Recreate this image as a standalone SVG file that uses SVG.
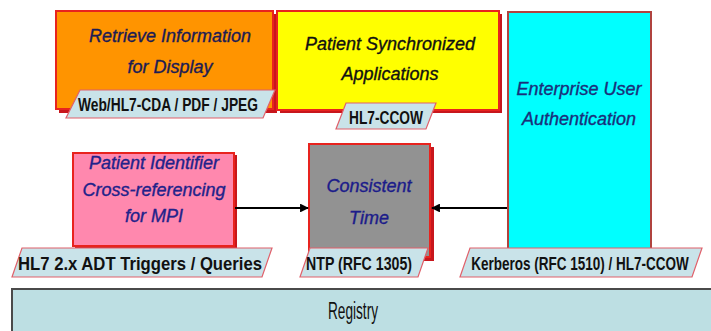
<svg xmlns="http://www.w3.org/2000/svg" width="711" height="331" viewBox="0 0 711 331">
  <style>
    .title { font-family: "Liberation Sans", Arial, sans-serif; font-size: 18px; font-style: italic; text-anchor: middle; stroke-width: 0.35; }
    .tag { fill: #c9e3e9; stroke: #e0606a; stroke-width: 1.2; }
    .tagtext { font-family: "Liberation Sans Narrow", "Liberation Sans", Arial, sans-serif; font-size: 19px; font-weight: bold; fill: #111; text-anchor: middle; }
    .shadow { fill: #c8161c; }
    .box { stroke: #e8231e; stroke-width: 2; }
    .link { stroke: #000; stroke-width: 2.2; fill: none; }
  </style>
  <defs>
    <marker id="arrow" viewBox="0 0 10 10" refX="9" refY="5" markerWidth="4" markerHeight="4" orient="auto">
      <path d="M0,0 L10,5 L0,10 z" fill="#000"/>
    </marker>
  </defs>

  <rect width="711" height="331" fill="#ffffff"/>

  <!-- Retrieve Information for Display -->
  <g id="retrieve-info">
    <rect class="shadow" x="59" y="14" width="218" height="99"/>
    <rect class="box" x="56" y="11" width="217" height="98" fill="#ff9400"/>
    <text class="title" x="170" y="42" fill="#1c1c55" stroke="#1c1c55">Retrieve Information</text>
    <text class="title" x="170" y="73" fill="#1c1c55" stroke="#1c1c55">for Display</text>
    <polygon class="tag" points="80,90 275,90 263,118 66,118"/>
    <text class="tagtext" x="168" y="111" textLength="180" lengthAdjust="spacingAndGlyphs">Web/HL7-CDA / PDF / JPEG</text>
  </g>

  <!-- Patient Synchronized Applications -->
  <g id="patient-sync">
    <rect class="shadow" x="280" y="14" width="222" height="99"/>
    <rect class="box" x="277" y="11" width="222" height="99" fill="#ffff00"/>
    <text class="title" x="390" y="50" fill="#111" stroke="#111">Patient Synchronized</text>
    <text class="title" x="390" y="80" fill="#111" stroke="#111">Applications</text>
    <polygon class="tag" points="346,103 436,103 426,129 336,129"/>
    <text class="tagtext" x="386" y="124" textLength="74" lengthAdjust="spacingAndGlyphs">HL7-CCOW</text>
  </g>

  <!-- Enterprise User Authentication -->
  <g id="user-auth">
    <rect x="508" y="12" width="143" height="237" fill="#00ffff" stroke="#b0433f" stroke-width="2"/>
    <text class="title" x="579" y="95" fill="#1a2f7a" stroke="#1a2f7a">Enterprise User</text>
    <text class="title" x="579" y="125" fill="#1a2f7a" stroke="#1a2f7a">Authentication</text>
  </g>

  <!-- Patient Identifier Cross-referencing for MPI -->
  <g id="pix">
    <rect class="shadow" x="75" y="155" width="162" height="94"/>
    <rect class="box" x="73" y="153" width="161" height="93" fill="#ff88ae"/>
    <text class="title" x="154" y="169" fill="#22228a" stroke="#22228a">Patient Identifier</text>
    <text class="title" x="154" y="196" fill="#22228a" stroke="#22228a">Cross-referencing</text>
    <text class="title" x="154" y="222" fill="#22228a" stroke="#22228a">for MPI</text>
  </g>

  <!-- Consistent Time -->
  <g id="consistent-time">
    <rect class="shadow" x="312" y="147" width="122" height="114"/>
    <rect class="box" x="309" y="144" width="121" height="113" fill="#929292"/>
    <text class="title" x="369" y="192" fill="#1c1c8a" stroke="#1c1c8a">Consistent</text>
    <text class="title" x="369" y="224" fill="#1c1c8a" stroke="#1c1c8a">Time</text>
  </g>

  <!-- Protocol tags along the lower row -->
  <g id="tag-pix">
    <polygon class="tag" points="22,248 272,248 262,277 12,277"/>
    <text class="tagtext" x="140" y="270" textLength="244" lengthAdjust="spacingAndGlyphs">HL7 2.x ADT Triggers / Queries</text>
  </g>
  <g id="tag-ntp">
    <polygon class="tag" points="310,248 428,248 418,277 300,277"/>
    <text class="tagtext" x="359" y="270" textLength="106" lengthAdjust="spacingAndGlyphs">NTP (RFC 1305)</text>
  </g>
  <g id="tag-kerberos">
    <polygon class="tag" points="470,248 702,248 692,277 460,277"/>
    <!-- narrowed horizontally so the long label stays inside its tag -->
    <text class="tagtext" transform="translate(580,270) scale(0.75,1)" x="0" y="0" textLength="290" lengthAdjust="spacingAndGlyphs">Kerberos (RFC 1510) / HL7-CCOW</text>
  </g>

  <!-- Connectors -->
  <g id="connectors">
    <line class="link" x1="235" y1="208" x2="308" y2="208" marker-end="url(#arrow)"/>
    <line class="link" x1="507" y1="208" x2="432" y2="208" marker-end="url(#arrow)"/>
  </g>

  <!-- Registry -->
  <g id="registry">
    <rect x="12" y="289" width="702" height="50" fill="#bddfe3" stroke="#4a4a4a" stroke-width="2"/>
    <text x="353" y="319" font-family="Liberation Sans Narrow, Liberation Sans, Arial, sans-serif" font-size="23" text-anchor="middle" fill="#111" textLength="50" lengthAdjust="spacingAndGlyphs">Registry</text>
  </g>
</svg>
